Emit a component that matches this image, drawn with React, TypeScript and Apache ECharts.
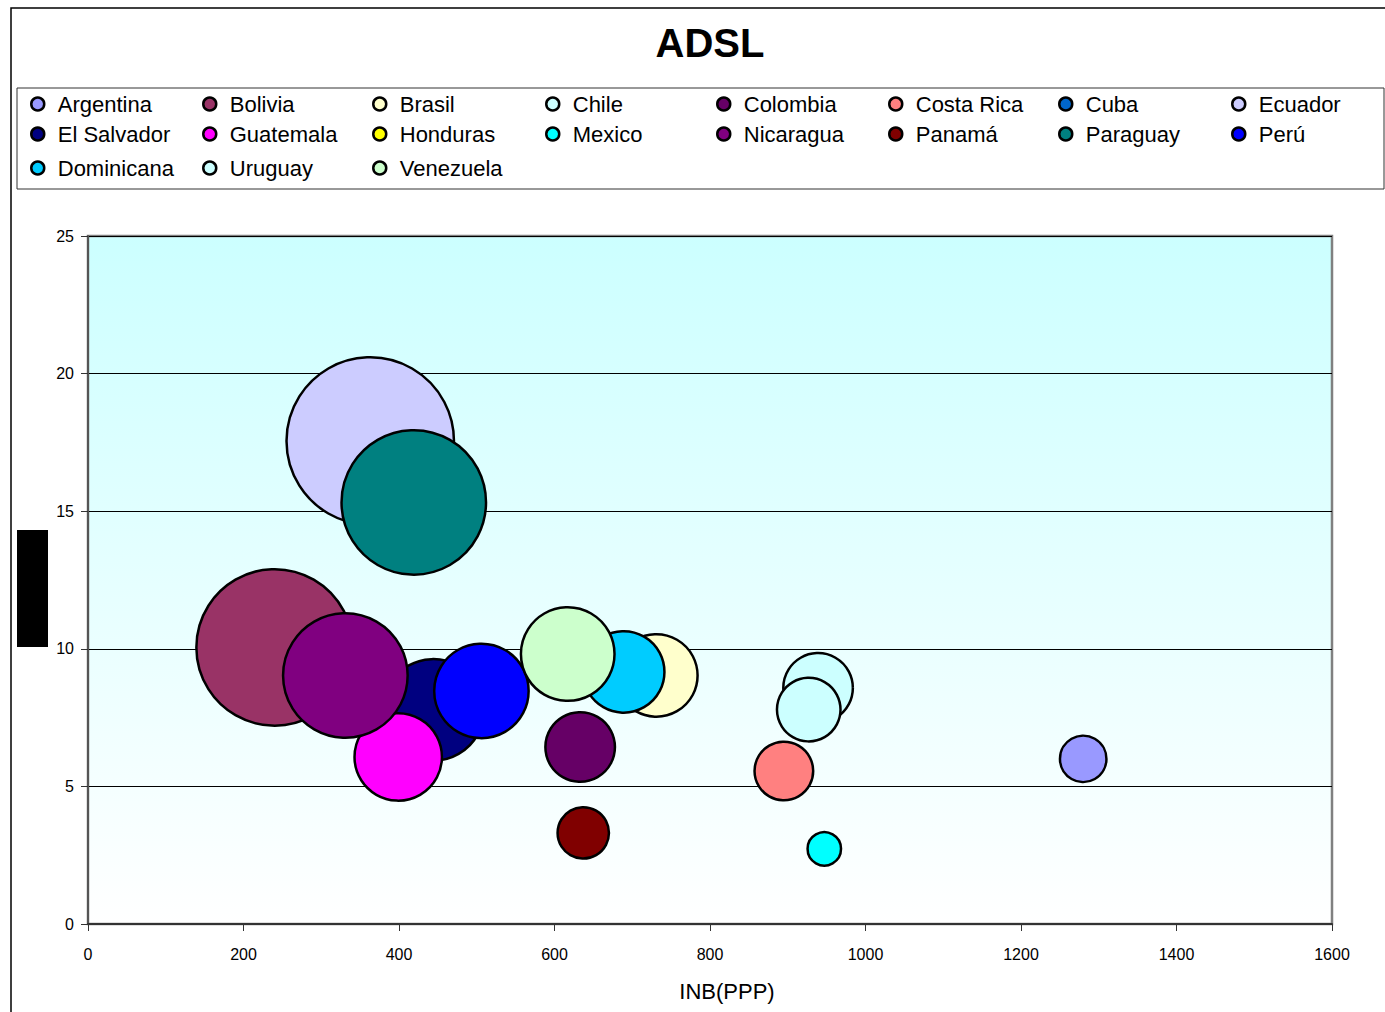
import React, { useEffect, useRef } from "react";
import * as echarts from "echarts";

const countries = [
  "Argentina", "Bolivia", "Brasil", "Chile", "Colombia", "Costa Rica", "Cuba", "Ecuador",
  "El Salvador", "Guatemala", "Honduras", "Mexico", "Nicaragua", "Panamá", "Paraguay", "Perú",
  "Dominicana", "Uruguay", "Venezuela",
];
const colors = [
  "#9999FF", "#993366", "#FFFFCC", "#CCFFFF", "#660066", "#FF8080", "#0066CC", "#CCCCFF",
  "#000080", "#FF00FF", "#FFFF00", "#00FFFF", "#800080", "#800000", "#008080", "#0000FF",
  "#00CCFF", "#CCFFFF", "#CCFFCC",
];
// INB (PPP) per country (null = no bubble)
const inbValues = [
  1280, 240, 731, 939, 633, 895, null, 363,
  444, 399, null, 947, 331, 637, 419, 506,
  689, 927, 617,
];
// ADSL values
const adslValues = [
  6.0, 10.05, 9.03, 8.58, 6.43, 5.56, null, 17.55,
  7.78, 6.07, null, 2.73, 9.03, 3.31, 15.32, 8.47,
  9.16, 7.79, 9.81,
];
// bubble size values
const sizeValues = [
  5.4, 61.2, 17.0, 12.1, 12.1, 8.6, null, 70.1,
  25.8, 19.1, null, 2.8, 38.8, 6.6, 52.2, 22.3,
  16.6, 10.1, 21.9,
];
const xTicks = { min: 0, max: 1600, interval: 200 };
const yTicks = { min: 0, max: 25, interval: 5 };

const legendColX = [41, 213, 383, 556, 727, 899, 1069, 1242];
const legendRowY = [104, 134, 168];

const FONT = "'Liberation Sans', Arial, sans-serif";

export default function App() {
  const ref = useRef<HTMLDivElement>(null);
  useEffect(() => {
    if (!ref.current) return;
    const chart = echarts.init(ref.current, undefined, { renderer: "svg" });

    const series = countries.map((name, i) => ({
      name,
      type: "scatter",
      data:
        inbValues[i] == null
          ? []
          : [[inbValues[i], adslValues[i], sizeValues[i]]],
      symbol: "circle",
      symbolSize: (v: number[]) => 20 * Math.sqrt(v[2]),
      itemStyle: { color: colors[i], borderColor: "#000", borderWidth: 2.5, opacity: 1 },
      emphasis: { disabled: true },
      z: 2 + i * 0.01,
      zlevel: 0,
    }));

    const legends = countries.map((name, i) => ({
      data: [name],
      left: legendColX[i % 8] - 11,
      top: legendRowY[Math.floor(i / 8)] - 11,
      padding: 0,
      icon: "circle",
      itemWidth: 22,
      itemHeight: 13,
      itemGap: 0,
      selectedMode: false,
      itemStyle: { borderColor: "#000", borderWidth: 2.5 },
      textStyle: { fontFamily: FONT, fontSize: 22, lineHeight: 22, color: "#000", padding: [0, 0, 0, 4] },
    }));

    chart.setOption({
      animation: false,
      backgroundColor: "#fff",
      textStyle: { fontFamily: FONT },
      legend: legends,
      grid: {
        left: 88,
        top: 236,
        right: 53,
        bottom: 88,
        show: true,
        borderColor: "#808080",
        borderWidth: 2.5,
        backgroundColor: new echarts.graphic.LinearGradient(0, 0, 0, 1, [
          { offset: 0, color: "#CCFFFF" },
          { offset: 1, color: "#FFFFFF" },
        ]),
      },
      xAxis: {
        type: "value",
        min: xTicks.min,
        max: xTicks.max,
        interval: xTicks.interval,
        name: "INB(PPP)",
        nameLocation: "middle",
        nameGap: 56,
        nameTextStyle: { fontFamily: FONT, fontSize: 22, color: "#000", padding: [0, 0, 0, 34] },
        axisLine: { show: true, lineStyle: { color: "#333", width: 2 } },
        axisTick: { show: true, length: 7, lineStyle: { color: "#333", width: 1 } },
        axisLabel: {
          color: "#000",
          fontSize: 16,
          fontFamily: FONT,
          margin: 22,
          formatter: (v: number) => String(v),
        },
        splitLine: { show: false },
      },
      yAxis: {
        type: "value",
        min: yTicks.min,
        max: yTicks.max,
        interval: yTicks.interval,
        axisLine: { show: true, lineStyle: { color: "#555", width: 2 } },
        axisTick: { show: true, length: 7, lineStyle: { color: "#333", width: 1 } },
        axisLabel: {
          color: "#000",
          fontSize: 16,
          fontFamily: FONT,
          margin: 14,
          formatter: (v: number) => String(v),
        },
        splitLine: { show: true, lineStyle: { color: "#000", width: 1 } },
      },
      graphic: [
        {
          type: "rect",
          shape: { x: 11, y: 8, width: 1400, height: 1100 },
          style: { fill: "none", stroke: "#000", lineWidth: 1.5 },
          silent: true,
          z: -10,
        },
        {
          type: "rect",
          shape: { x: 17, y: 88, width: 1367, height: 101 },
          style: { fill: "none", stroke: "#333", lineWidth: 1 },
          silent: true,
        },
        {
          type: "rect",
          shape: { x: 17, y: 530, width: 31, height: 117 },
          style: { fill: "#000" },
          silent: true,
        },
        {
          type: "text",
          x: 710,
          y: 43,
          style: {
            text: "ADSL",
            fontFamily: FONT,
            fontSize: 40,
            fontWeight: "bold",
            fill: "#000",
            textAlign: "center",
            textVerticalAlign: "middle",
          },
          silent: true,
        },
      ],
      series,
    });
    return () => chart.dispose();
  }, []);
  return (
    <div
      ref={ref}
      style={{ position: "absolute", left: 0, top: 0, width: 1385, height: 1012 }}
    />
  );
}
